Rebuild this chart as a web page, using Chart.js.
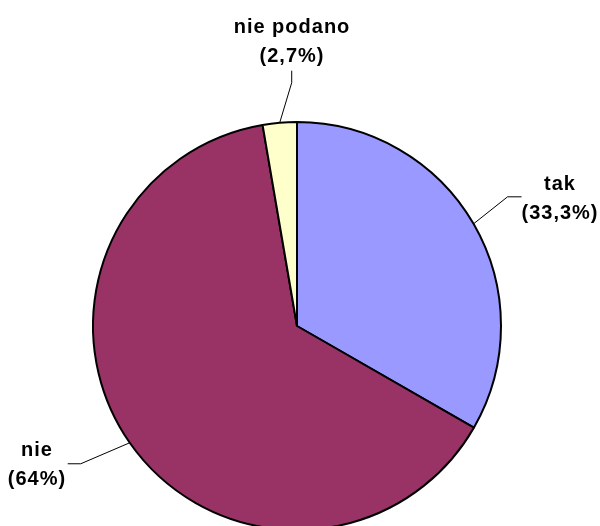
<!DOCTYPE html>
<html>
<head>
<meta charset="utf-8">
<script src="https://cdn.jsdelivr.net/npm/chart.js@4.4.0/dist/chart.umd.min.js"></script>
<style>
html,body{margin:0;padding:0;background:#fff;overflow:hidden;}
#wrap{width:600px;height:540px;}
</style>
</head>
<body>
<div id="wrap"><canvas id="c" width="600" height="540"></canvas></div>
<script>
const categories = ["tak", "nie", "nie podano"];
const values = [33.3, 64, 2.7];
const colors = ["#9999FF", "#993366", "#FFFFCC"];

// label layout (styling only): leader elbow/end offsets from slice edge, text anchor
const labelLayout = [
  {elbow:[34,-27], end:[48,-27], tx:560, ty:190},
  {elbow:[-49,21], end:[-62,21], tx:37, ty:456},
  {elbow:[12,-40], end:[12,-52], tx:292, ty:33}
];

function fmt(v){ return String(v).replace('.', ','); }

const labelPlugin = {
  id: 'leaderLabels',
  afterDatasetsDraw(chart){
    const ctx = chart.ctx;
    const meta = chart.getDatasetMeta(0);
    ctx.save();
    meta.data.forEach((arc, i) => {
      const p = arc.getProps(['x','y','startAngle','endAngle','outerRadius'], true);
      const mid = (p.startAngle + p.endAngle) / 2;
      const sx = p.x + Math.cos(mid) * p.outerRadius;
      const sy = p.y + Math.sin(mid) * p.outerRadius;
      const L = labelLayout[i];
      ctx.beginPath();
      ctx.strokeStyle = '#000';
      ctx.lineWidth = 1;
      ctx.moveTo(sx, sy);
      ctx.lineTo(sx + L.elbow[0], sy + L.elbow[1]);
      ctx.lineTo(sx + L.end[0], sy + L.end[1]);
      ctx.stroke();
      ctx.fillStyle = '#000';
      ctx.font = 'bold 20px "Liberation Sans", Arial, sans-serif';
      try { ctx.letterSpacing = '1px'; } catch(e) {}
      ctx.textAlign = 'center';
      ctx.textBaseline = 'alphabetic';
      ctx.fillText(categories[i], L.tx, L.ty);
      ctx.fillText('(' + fmt(values[i]) + '%)', L.tx, L.ty + 29);
    });
    ctx.restore();
  }
};

new Chart(document.getElementById('c'), {
  type: 'pie',
  data: {
    labels: categories,
    datasets: [{
      data: values,
      backgroundColor: colors,
      borderColor: '#000',
      borderWidth: 2
    }]
  },
  options: {
    responsive: false,
    animation: false,
    radius: 204,
    layout: { padding: { left: 93, right: 99, top: 122, bottom: 10 } },
    plugins: { legend: { display: false }, tooltip: { enabled: false } }
  },
  plugins: [labelPlugin]
});
</script>
</body>
</html>
